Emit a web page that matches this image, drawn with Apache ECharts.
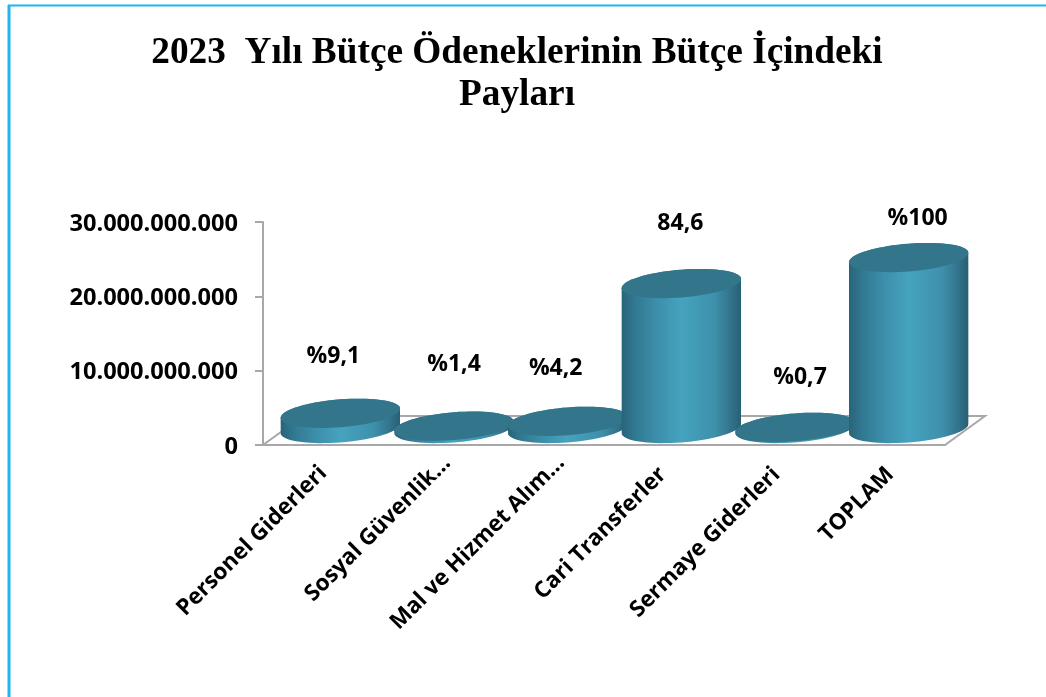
<!DOCTYPE html>
<html>
<head>
<meta charset="utf-8">
<style>html,body{margin:0;padding:0;background:#fff}#c{width:1046px;height:697px}</style>
<script src="https://cdn.jsdelivr.net/npm/echarts@6/dist/echarts.min.js"></script>
</head>
<body>
<div id="c"></div>
<script>
const categories = ['Personel Giderleri', 'Sosyal Güvenlik...', 'Mal ve Hizmet Alım...', 'Cari Transferler', 'Sermaye Giderleri', 'TOPLAM'];
const values = [2050000000, 320000000, 970000000, 19500000000, 160000000, 23000000000];
const shareLabels = ['%9,1', '%1,4', '%4,2', '84,6', '%0,7', '%100'];
const labelOffsets = [[-7, -57], [0, -62], [-12, -53], [-1, -60], [5, -50], [9, -39]];
const categoryLabelPadding = [[0, -4.9, 4.2, 0], [21, -19.1, 0, 0], [22.6, -19.7, 0, 0], [11.4, -2.8, 0, 0], [5.6, -2.8, 0, 0], [5.7, -2.8, 0, 0]];

const DEPTH_X = 40, DEPTH_Y = 29;
const SHIFT_X = 20.5, SHIFT_Y = 16.5;
const SIDE = { type: 'linear', x: 0, y: 0, x2: 1, y2: 0, colorStops: [
  { offset: 0, color: '#296478' }, { offset: 0.12, color: '#327a93' }, { offset: 0.3, color: '#3d8fab' },
  { offset: 0.5, color: '#45a3bf' }, { offset: 0.78, color: '#3e90ab' }, { offset: 0.92, color: '#32728a' }, { offset: 1, color: '#285f72' }
]};
const TOP = '#33758a';

function ringPoint(cx, cy, rx, t) {
  return [cx + rx * Math.cos(t), cy - 4.6 * Math.cos(t) + 13.9 * Math.sin(t)];
}
function cylinder(params, api) {
  const i = api.value(0), v = api.value(1);
  const base = api.coord([i, 0]), top = api.coord([i, v]);
  const rx = api.size([1, 0])[0] * 0.525;
  const cx = base[0] + SHIFT_X, by = base[1] - SHIFT_Y, ty = top[1] - SHIFT_Y;
  const side = [], cap = [];
  const N = 72;
  for (let k = 0; k <= N / 2; k++) side.push(ringPoint(cx, by, rx, Math.PI * k / (N / 2)));
  for (let k = 0; k <= N / 2; k++) side.push(ringPoint(cx, ty, rx, Math.PI + Math.PI * k / (N / 2)));
  for (let k = 0; k < N; k++) cap.push(ringPoint(cx, ty, rx, 2 * Math.PI * k / N));
  const off = labelOffsets[i];
  return { type: 'group', children: [
    { type: 'polygon', shape: { points: side }, style: { fill: SIDE } },
    { type: 'polygon', shape: { points: cap }, style: { fill: TOP } },
    { type: 'text', z2: 100, style: { text: shareLabels[i], x: cx + off[0], y: ty + off[1], align: 'center', verticalAlign: 'middle',
      font: 'bold 23px "Open Sans"', fill: '#000' } }
  ]};
}
function floor(params, api) {
  const g = params.coordSys;
  const b = g.y + g.height, l = g.x, r = g.x + g.width;
  return { type: 'polygon', shape: { points: [[l, b], [l + DEPTH_X, b - DEPTH_Y], [r + DEPTH_X, b - DEPTH_Y], [r, b]] },
    style: { fill: 'none', stroke: '#a8a8a8', lineWidth: 2 } };
}

const chart = echarts.init(document.getElementById('c'), null, { renderer: 'canvas' });
chart.setOption({
  animation: false,
  backgroundColor: '#fff',
  title: { text: '2023  Yılı Bütçe Ödeneklerinin Bütçe İçindeki\nPayları', left: 512, top: 27, textAlign: 'center',
    textStyle: { fontFamily: 'Liberation Serif', fontWeight: 'bold', fontSize: 37.3, lineHeight: 42, color: '#000' } },
  graphic: [
    { type: 'line', silent: true, shape: { x1: 9, y1: 5, x2: 9, y2: 697 }, style: { stroke: '#1fb4f2', lineWidth: 3 } },
    { type: 'line', silent: true, shape: { x1: 8, y1: 5.5, x2: 1046, y2: 5.5 }, style: { stroke: '#1fb4f2', lineWidth: 2 } }
  ],
  grid: { left: 263, right: 101, top: 222, bottom: 252 },
  xAxis: { type: 'category', data: categories.map((c, i) => ({ value: c, textStyle: { padding: categoryLabelPadding[i] } })),
    axisLine: { lineStyle: { color: '#a8a8a8', width: 2 } }, axisTick: { show: false },
    axisLabel: { rotate: 45, interval: 0, margin: 28, color: '#000', fontFamily: 'Open Sans', fontWeight: 'bold', fontSize: 22.5 } },
  yAxis: { type: 'value', min: 0, max: 30000000000, interval: 10000000000,
    axisLine: { show: true, lineStyle: { color: '#a8a8a8', width: 2 } },
    axisTick: { show: true, length: 8, lineStyle: { color: '#a8a8a8', width: 2 } },
    splitLine: { show: false },
    axisLabel: { margin: 25, formatter: v => '{t|' + String(v).replace(/\B(?=(\d{3})+$)/g, '.') + '}',
      rich: { t: { color: '#000', fontFamily: 'Open Sans', fontWeight: 'bold', fontSize: 23.6, padding: [4, 0, 0, 0] } } } },
  series: [
    { type: 'custom', z: 1, silent: true, renderItem: floor, data: [[0, 0]], clip: false },
    { type: 'custom', z: 2, silent: true, renderItem: cylinder, clip: false, encode: { x: 0, y: 1 },
      data: values.map((v, i) => [i, v]) }
  ]
});
</script>
</body>
</html>
